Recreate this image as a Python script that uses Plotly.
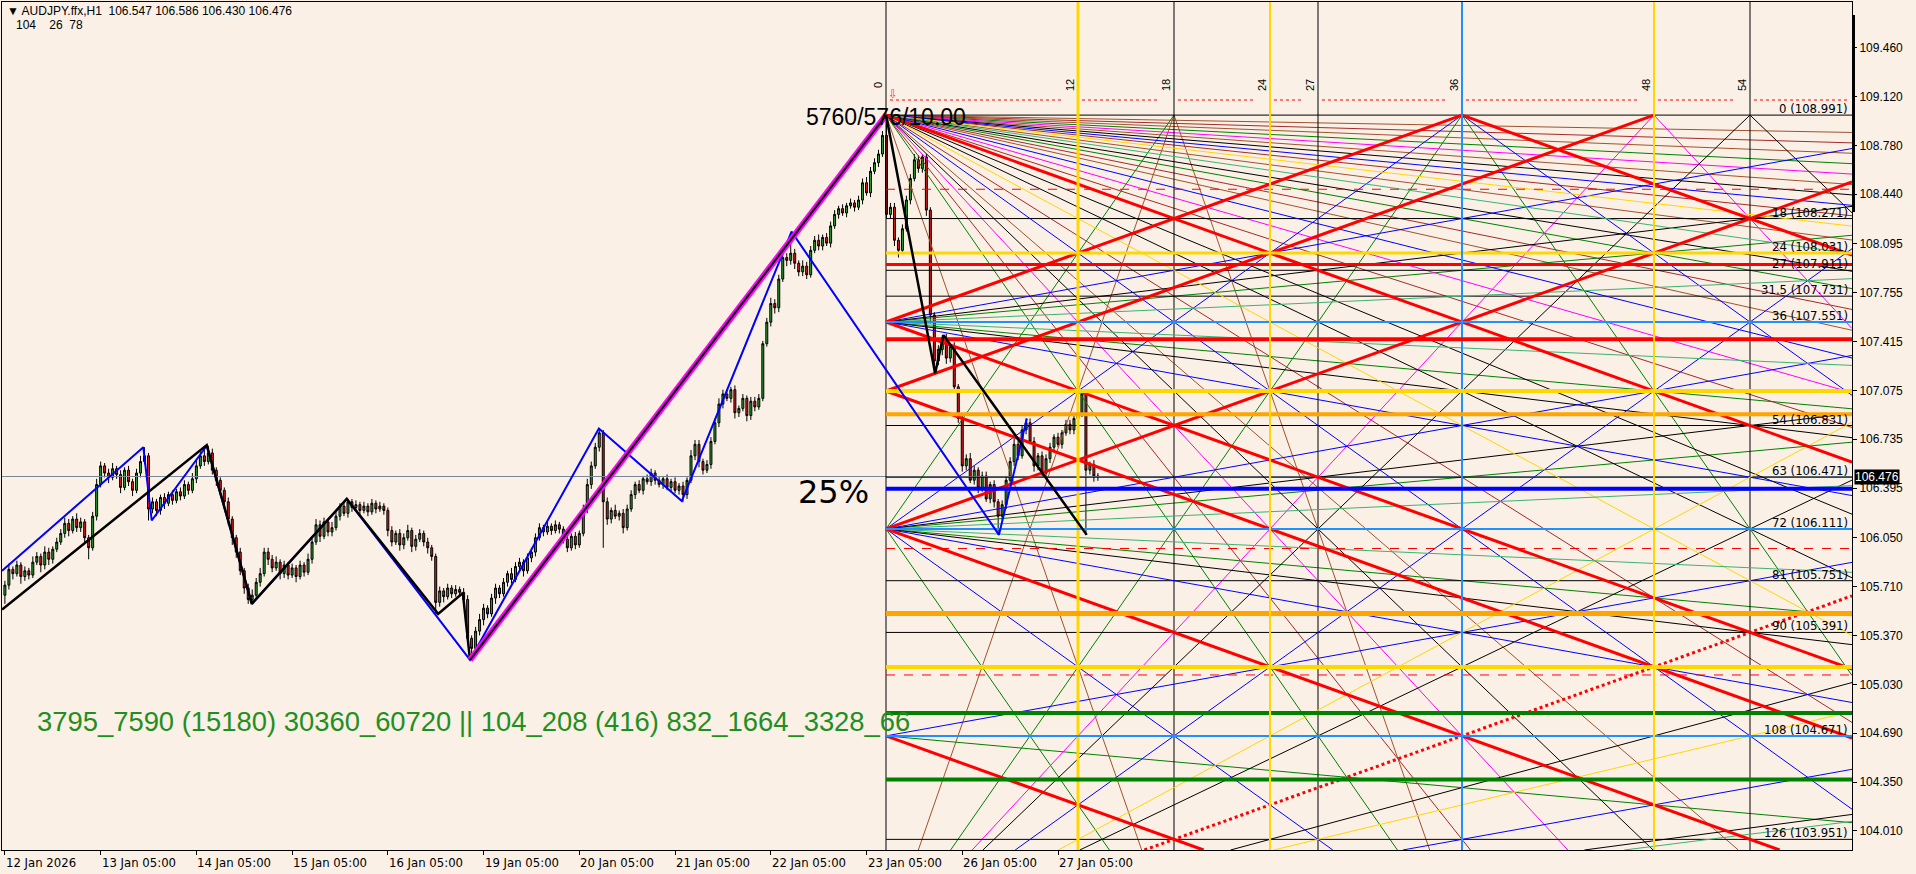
import plotly.graph_objects as go

# ---------------- data ----------------
closes = [
    105.72, 105.83, 105.80, 105.86, 105.78, 105.82, 105.79, 105.88,
    105.92, 105.86, 105.95, 105.90, 105.97, 106.02,
    106.08, 106.15, 106.10, 106.18, 106.12, 106.16, 106.05,
    105.98, 106.20, 106.42,
    106.55, 106.50, 106.47, 106.53, 106.49, 106.40, 106.52, 106.44, 106.38, 106.50, 106.58, 106.62,
    106.25, 106.30, 106.24,
    106.33, 106.29, 106.35, 106.31, 106.37, 106.34,
    106.42, 106.38, 106.46,
    106.55, 106.62, 106.58, 106.64,
    106.52, 106.45, 106.38,
    106.30, 106.18, 106.05,
    105.95, 105.82, 105.70, 105.62, 105.65,
    105.74, 105.80, 105.95, 105.90,
    105.84, 105.88, 105.80, 105.86,
    105.79, 105.84, 105.78, 105.86, 105.81, 105.90, 106.02,
    106.14, 106.06, 106.16, 106.09, 106.12,
    106.20, 106.27, 106.22, 106.30,
    106.26, 106.28, 106.24, 106.27, 106.23, 106.29, 106.25, 106.27, 106.24,
    106.10, 106.02, 106.08, 106.00,
    106.05, 106.10, 105.99, 106.04, 106.08, 106.02, 105.98, 105.92,
    105.60, 105.68, 105.64, 105.70, 105.66, 105.69, 105.67, 105.62,
    105.35, 105.28,
    105.40, 105.48, 105.56, 105.52, 105.63, 105.70, 105.66,
    105.74, 105.80, 105.76, 105.85, 105.88, 105.82, 105.91, 105.95,
    106.05, 106.12, 106.09, 106.13, 106.10, 106.14, 106.11,
    106.04, 105.98, 106.06, 106.00, 106.08,
    106.25, 106.42, 106.55, 106.68, 106.78, 106.30,
    106.18, 106.24, 106.20, 106.22, 106.12, 106.25,
    106.35, 106.42, 106.38, 106.46, 106.44, 106.50,
    106.45, 106.42, 106.46, 106.40, 106.44, 106.38, 106.41, 106.35, 106.45,
    106.62, 106.70, 106.58, 106.52, 106.56, 106.72,
    106.85, 106.98, 107.05, 107.02, 107.08,
    106.92, 106.95, 107.02, 106.90, 107.00,
    106.96, 107.02, 107.40,
    107.55, 107.68, 107.65,
    107.85, 108.00, 107.98, 108.03,
    107.96, 107.90, 107.94, 107.88, 108.05,
    108.12, 108.08, 108.14, 108.10,
    108.22, 108.30, 108.34, 108.31, 108.36, 108.38, 108.35, 108.40,
    108.52, 108.45, 108.60, 108.66, 108.72, 108.85,
    108.30,
    108.35, 108.12, 108.05, 108.20,
    108.40, 108.55, 108.68, 108.62, 108.70,
    108.33,
    107.60,
    107.28, 107.36, 107.44,
    107.30, 107.38, 107.10, 106.88,
    106.55,
    106.60, 106.45, 106.52, 106.40, 106.48, 106.32, 106.42, 106.30,
    106.20, 106.28,
    106.45, 106.58, 106.70, 106.62, 106.80, 106.85,
    106.72, 106.55, 106.62, 106.50, 106.60,
    106.68, 106.75, 106.70, 106.78, 106.84, 106.80, 106.88, 106.92,
    107.05,
    106.52,
    106.56, 106.48, 106.476,
]
upper_wick = [
    3, 4, 2, 3, 2, 3, 2, 4,
    3, 2, 4, 3, 2, 3,
    3, 4, 3, 2, 4, 3, 2,
    2, 3, 4,
    3, 2, 3, 4, 2, 3, 2, 3, 2, 3, 4, 6,
    2, 3, 2,
    2, 3, 2, 3, 2, 3,
    3, 2, 4,
    4, 3, 5, 5,
    3, 2, 2,
    2, 3, 2,
    2, 3, 2, 3, 4,
    3, 4, 3, 3,
    3, 4, 2, 3,
    2, 3, 2, 3, 2, 4, 3,
    4, 3, 3, 2, 4,
    3, 2, 3, 2,
    2, 3, 2, 3, 2, 3, 2, 3, 2,
    2, 3, 2, 3,
    3, 4, 2, 3, 3, 2, 3, 2,
    2, 3, 2, 3, 2, 3, 2, 3,
    3, 2,
    3, 4, 3, 2, 3, 3, 2,
    3, 2, 4, 3, 3, 2, 3, 3,
    3, 3, 2, 3, 2, 3, 2,
    2, 3, 2, 3, 2,
    3, 4, 3, 3, 3, 2,
    3, 2, 4, 2, 3, 3,
    3, 2, 3, 2, 3, 3,
    2, 3, 2, 3, 2, 3, 2, 3, 2,
    4, 3, 3, 2, 3, 3,
    3, 4, 3, 3, 2,
    3, 2, 3, 2, 3,
    3, 3, 2,
    3, 4, 3,
    3, 4, 3, 14,
    3, 2, 4, 3, 3,
    3, 4, 2, 3,
    3, 3, 2, 3, 2, 3, 2, 3,
    3, 4, 3, 3, 3, 3,
    14,
    3, 3, 2, 3,
    3, 3, 4, 3, 2,
    2,
    2,
    2, 3, 2,
    3, 2, 3, 2,
    3,
    3, 4, 3, 2, 3, 3, 2, 3,
    2, 3,
    3, 3, 4, 3, 3, 3,
    3, 3, 2, 3, 3,
    3, 2, 3, 2, 3, 3, 2, 3,
    3,
    3,
    2, 3, 2,
]
lower_wick = [
    6, 3, 4, 2, 5, 3, 3, 2,
    2, 5, 3, 4, 3, 2,
    2, 3, 4, 2, 3, 3, 4,
    8, 2, 3,
    2, 3, 4, 2, 3, 4, 2, 3, 4, 2, 3, 2,
    8, 3, 4,
    3, 4, 2, 3, 2, 3,
    2, 3, 2,
    3, 2, 3, 2,
    3, 4, 3,
    3, 4, 5,
    4, 3, 4, 3, 2,
    2, 3, 2, 4,
    3, 2, 4, 3,
    3, 2, 4, 2, 3, 2, 3,
    2, 4, 2, 3, 3,
    2, 3, 2, 3,
    3, 2, 3, 2, 3, 2, 3, 2, 3,
    4, 3, 2, 4,
    3, 2, 4, 3, 2, 3, 4, 3,
    8, 3, 4, 2, 3, 2, 3, 4,
    4, 8,
    4, 3, 4, 3, 2, 4, 3,
    2, 3, 3, 2, 3, 4, 2, 3,
    3, 2, 3, 2, 3, 2, 3,
    3, 3, 2, 3, 2,
    2, 3, 3, 2, 3, 32,
    4, 3, 2, 3, 4, 2,
    2, 3, 2, 3, 2, 3,
    3, 2, 3, 2, 3, 2, 3, 5, 3,
    2, 3, 4, 3, 2, 3,
    2, 3, 3, 2, 3,
    4, 3, 2, 4, 3,
    3, 2, 2,
    2, 3, 4,
    3, 2, 4, 3,
    4, 3, 3, 3, 2,
    2, 3, 3, 2,
    3, 2, 3, 2, 3, 2, 3, 2,
    3, 2, 3, 2, 3, 2,
    3,
    3, 4, 5, 2,
    2, 3, 2, 3, 3,
    4,
    6,
    9, 3, 4,
    4, 3, 4, 3,
    4,
    3, 2, 3, 4, 3, 2, 3, 4,
    13, 3,
    3, 2, 3, 3, 2, 3,
    2, 4, 3, 3, 2,
    3, 3, 2, 3, 2, 3, 3, 2,
    3,
    45,
    3, 4, 3,
]
FIRST_OPEN = 105.65
PIP = 0.01
LAST_PRICE = 106.476

date_bars = [0, 24, 48, 72, 96, 120, 144, 168, 192, 216, 240, 264]
date_labels = ["12 Jan 2026", "13 Jan 05:00", "14 Jan 05:00", "15 Jan 05:00", "16 Jan 05:00",
               "19 Jan 05:00", "20 Jan 05:00", "21 Jan 05:00", "22 Jan 05:00", "23 Jan 05:00",
               "26 Jan 05:00", "27 Jan 05:00"]
price_ticks = [109.460, 109.120, 108.780, 108.440, 108.095, 107.755, 107.415, 107.075, 106.735,
               106.395, 106.050, 105.710, 105.370, 105.030, 104.690, 104.350, 104.010]

blue_zz_bar = [-0.7, 34.7, 36.8, 50.6, 61.9, 85.7, 116.6, 148.9, 169.7, 197.2, 249.2, 256.2]
blue_zz_price = [105.82, 106.68, 106.17, 106.69, 105.59, 106.32, 105.20, 106.81, 106.305, 108.18, 106.07, 106.88]
black_zz_bar = [-0.7, 50.6, 61.9, 85.7, 108.6, 114.8, 116.6]
black_zz_price = [105.55, 106.695, 105.59, 106.32, 105.52, 105.665, 105.20]
trend_bar = [116.6, 220.9]
trend_price = [105.20, 108.991]
drop_bar = [220.9, 233.2, 235.3, 271.2]
drop_price = [108.991, 107.195, 107.46, 106.07]

# Gann box: origin 108.991, 0.04 per price unit, 4 bars per time unit
GANN_P0 = 108.991
GANN_STEP = 0.04
gann_time_marks = [0, 12, 18, 24, 27, 36, 48, 54]
gann_label_units = [0, 18, 24, 27, 31.5, 36, 54, 63, 72, 81, 90, 108, 126]
level_units = [0, 12.9, 18, 24, 24, 26, 27, 31.5, 36, 39, 48, 52.06, 54, 63, 65, 72,
               75.4, 81, 86.7, 90, 96, 97.4, 104, 108, 115.6, 126]
fan0_slopes = [0.05, 0.08, 0.11, 0.14, 0.17, 0.20, 0.23, 0.26, 0.29, 0.32, 0.36, 0.40, 0.45, 0.50,
               0.56, 0.62, 0.70, 0.80, 0.90, 1.15, 4 / 3, 1.5, 1.75, 2.0, 2.4, 8 / 3, 3.0, 3.5, 4.0, 8.0]
fan144_slopes = [-0.25, -0.35, -0.37, -0.5, -2 / 3, -0.75, -4 / 3, -1.5, -2, -8 / 3, -3, -4, -8]
fanm144_slopes = [8 / 3, 3, 4, 8]
side_pivots = [36, 72]
side_slopes = [0.125, 0.25, 1 / 3, 0.5]
low_pivot = 108
low_pivot_slopes = [-0.5, 0.25]
red_lines = [(0, 1), (36, -1), (-36, 1), (48, -1), (36, 1), (48, 1), (72, -1), (72, 1), (108, 1)]

# ---------------- styles ----------------
C = {"sienna": "#A0522D", "brown": "#A52A2A", "green": "#008000", "mediumseagreen": "#3CB371",
     "magenta": "#FF00FF", "black": "#000000", "blue": "#0000FF", "gold": "#FFD700",
     "red": "#FF0000", "orange": "#FFA500", "dodgerblue": "#1E90FF", "seagreen": "#2E8B57"}
fan0_colors = ['sienna', 'brown', 'sienna', 'green', 'magenta', 'sienna', 'black', 'blue', 'brown', 'gold',
               'sienna', 'mediumseagreen', 'black', 'green', 'brown', 'sienna', 'blue', 'magenta', 'brown',
               'black', 'black', 'gold', 'brown', 'blue', 'sienna', 'black', 'magenta', 'brown', 'green',
               'sienna']
fan144_colors = ['green', 'mediumseagreen', 'black', 'blue', 'gold', 'black', 'black', 'gold', 'blue',
                 'black', 'magenta', 'green', 'sienna']
fanm144_colors = ['black', 'magenta', 'green', 'sienna']
side_colors = ['mediumseagreen', 'green', 'black', 'blue']
low_pivot_colors = ['blue', 'green']
level_styles = [('black', 1, 'solid'), ('red', 1, 'dash'), ('black', 1, 'solid'), ('gold', 3, 'solid'),
                ('black', 1, 'solid'), ('red', 3, 'solid'), ('black', 1, 'solid'), ('black', 1, 'solid'),
                ('dodgerblue', 2, 'solid'), ('red', 4, 'solid'), ('gold', 4, 'solid'),
                ('orange', 4, 'solid'), ('black', 1, 'solid'), ('black', 1, 'solid'), ('blue', 4, 'solid'),
                ('dodgerblue', 2, 'solid'), ('red', 1, 'dash'), ('black', 1, 'solid'),
                ('orange', 5, 'solid'), ('black', 1, 'solid'), ('gold', 4, 'solid'), ('red', 1, 'dash'),
                ('green', 4, 'solid'), ('dodgerblue', 2, 'solid'), ('green', 4, 'solid'),
                ('black', 1, 'solid')]
vline_styles = [('black', 1), ('gold', 3), ('black', 1), ('gold', 2), ('black', 1), ('dodgerblue', 2),
                ('gold', 2), ('black', 1)]

# ---------------- geometry helpers ----------------
PX0, PXPB = 4.9, 3.989          # pixel of bar 0, pixels per bar
X_RANGE = [(2 - PX0) / PXPB, (1852 - PX0) / PXPB]
Y_RANGE = [103.877, 109.778]
PXPP = 143.7                    # pixels per price unit


def px2x(px):
    return (px - PX0) / PXPB


def py2p(py):
    return Y_RANGE[1] - (py - 2) / PXPP


def pxp(px):
    return (px - 2) / 1850


def pyp(py):
    return (850 - py) / 848


T0 = px2x(886)
BPU = 16 / PXPB
TMAX = (X_RANGE[1] - T0) / BPU
UMAX = (GANN_P0 - Y_RANGE[0]) / GANN_STEP


def gx(t):
    return T0 + BPU * t


def gp(u):
    return GANN_P0 - GANN_STEP * u


groups = {}


def add(key, xs, ys):
    g = groups.setdefault(key, ([], []))
    g[0].extend(list(xs) + [None])
    g[1].extend(list(ys) + [None])


def ray(u0, s, color, width=1, dash='solid'):
    lo, hi = 0.0, TMAX
    if s != 0:
        ta, tb = -u0 / s, (UMAX - u0) / s
        lo, hi = max(lo, min(ta, tb)), min(hi, max(ta, tb))
    if hi <= lo:
        return
    add((C[color], width, dash), [gx(lo), gx(hi)], [gp(u0 + s * lo), gp(u0 + s * hi)])


for s, c in zip(fan0_slopes, fan0_colors):
    ray(0, s, c)
for s, c in zip(fan144_slopes, fan144_colors):
    ray(144, s, c)
for s, c in zip(fanm144_slopes, fanm144_colors):
    ray(-144, s, c)
ray(-72, 2, 'blue')
for piv in side_pivots:
    for s, c in zip(side_slopes, side_colors):
        ray(piv, s, c)
        ray(piv, -s, c)
for s, c in zip(low_pivot_slopes, low_pivot_colors):
    ray(low_pivot, s, c)
ray(72, -2, 'blue')
ray(72, 2, 'blue')
ray(72, 4, 'green')
ray(72, -4, 'green')
for u0, s in red_lines:
    ray(u0, s, 'red', 3)
ray(144, -1, 'red', 3, 'dot')

for u, (c, w, d) in zip(level_units, level_styles):
    add((C[c], w, d), [gx(0), gx(TMAX)], [gp(u), gp(u)])
for t, (c, w) in zip(gann_time_marks, vline_styles):
    add((C[c], w, 'solid'), [gx(t), gx(t)], [Y_RANGE[0], Y_RANGE[1]])
    if c == 'gold' and w == 3:
        add((C['black'], 1, 'solid'), [gx(t), gx(t)], [Y_RANGE[0], Y_RANGE[1]])

# red dotted line above the box
dot_p = py2p(100)
marks_px = [886 + 16 * t for t in gann_time_marks]
for a, b in zip(marks_px, marks_px[1:] + [1862]):
    add((C['red'], 1, 'dot'), [px2x(a + 4), px2x(b - 14)], [dot_p, dot_p])

fig = go.Figure()
# last price line
fig.add_trace(go.Scatter(x=[X_RANGE[0], X_RANGE[1]], y=[LAST_PRICE, LAST_PRICE], mode='lines',
                         line=dict(color='#778899', width=1), hoverinfo='skip', showlegend=False))
for (col, w, d), (xs, ys) in groups.items():
    fig.add_trace(go.Scatter(x=xs, y=ys, mode='lines', line=dict(color=col, width=w, dash=d),
                             hoverinfo='skip', showlegend=False))

# zigzags
fig.add_trace(go.Scatter(x=blue_zz_bar, y=blue_zz_price, mode='lines', line=dict(color='#0000FF', width=2),
                         hoverinfo='skip', showlegend=False))
fig.add_trace(go.Scatter(x=black_zz_bar, y=black_zz_price, mode='lines', line=dict(color='black', width=2.5),
                         hoverinfo='skip', showlegend=False))
fig.add_trace(go.Scatter(x=trend_bar, y=trend_price, mode='lines', line=dict(color='#FF00FF', width=6),
                         hoverinfo='skip', showlegend=False))
fig.add_trace(go.Scatter(x=trend_bar, y=trend_price, mode='lines', line=dict(color='black', width=2),
                         hoverinfo='skip', showlegend=False))
fig.add_trace(go.Scatter(x=drop_bar, y=drop_price, mode='lines', line=dict(color='black', width=2.5),
                         hoverinfo='skip', showlegend=False))

# candles
opens = [FIRST_OPEN] + closes[:-1]
highs = [max(o, c) + w * PIP for o, c, w in zip(opens, closes, upper_wick)]
lows = [min(o, c) - w * PIP for o, c, w in zip(opens, closes, lower_wick)]
fig.add_trace(go.Candlestick(
    x=list(range(len(closes))), open=opens, high=highs, low=lows, close=closes,
    increasing=dict(line=dict(color='black', width=1), fillcolor='#2f9e2f'),
    decreasing=dict(line=dict(color='black', width=1), fillcolor='#e01b1b'),
    whiskerwidth=0, showlegend=False, hoverinfo='skip'))

ann = []
NARROW = "Liberation Sans Narrow, DejaVu Sans Condensed, Liberation Sans"
# date labels
for b, lab in zip(date_bars, date_labels):
    ann.append(dict(x=b, xref='x', y=pyp(853), yref='paper', text=lab, showarrow=False, xanchor='left',
                    yanchor='top', xshift=-1, font=dict(family=NARROW, size=13, color='black')))
# gann level labels on the right
for u in gann_label_units:
    num = ('%g' % u)
    ann.append(dict(x=pxp(1850), xref='paper', y=gp(u), yref='y', text=f"{num} ({gp(u):.3f})",
                    showarrow=False, xanchor='right', yanchor='bottom', yshift=-3,
                    font=dict(family=NARROW, size=13, color='black')))
# time labels (rotated)
for t in gann_time_marks:
    ann.append(dict(x=px2x(886 + 16 * t - 8), xref='x', y=py2p(85), yref='y', text=str(t), textangle=-90,
                    showarrow=False, xanchor='center', yanchor='middle',
                    font=dict(family="Liberation Sans", size=11, color='black')))
# texts
ann.append(dict(x=px2x(804), xref='x', y=py2p(117), yref='y', text="5760/576/10.00", showarrow=False,
                xanchor='left', yanchor='middle', font=dict(family="Liberation Sans", size=23, color='black')))
ann.append(dict(x=px2x(893), xref='x', y=py2p(94), yref='y', text="⇩", showarrow=False,
                xanchor='center', yanchor='middle', font=dict(family="DejaVu Sans", size=12, color='#FF3030')))
ann.append(dict(x=px2x(796), xref='x', y=py2p(492), yref='y', text="25%", showarrow=False,
                xanchor='left', yanchor='middle', font=dict(family="DejaVu Sans", size=32, color='black')))
ann.append(dict(x=px2x(35), xref='x', y=py2p(721), yref='y',
                text="3795_7590 (15180) 30360_60720 || 104_208 (416) 832_1664_3328_66",
                showarrow=False, xanchor='left', yanchor='middle',
                font=dict(family="Liberation Sans", size=27.4, color='#1f8f1f')))
ann.append(dict(x=pxp(5), xref='paper', y=pyp(11), yref='paper',
                text="▼ AUDJPY.ffx,H1\u00a0\u00a0106.547 106.586 106.430 106.476", showarrow=False,
                xanchor='left', yanchor='middle', font=dict(family="Liberation Sans", size=12, color='black')))
ann.append(dict(x=pxp(14), xref='paper', y=pyp(25), yref='paper',
                text="104\u00a0\u00a0\u00a0\u00a026\u00a0\u00a078", showarrow=False,
                xanchor='left', yanchor='middle', font=dict(family="Liberation Sans", size=12, color='black')))
# last price tag
ann.append(dict(x=pxp(1854), xref='paper', y=LAST_PRICE, yref='y', text="106.476", showarrow=False,
                xanchor='left', yanchor='middle', bgcolor='black', borderpad=0,
                font=dict(family="Liberation Sans", size=12, color='white')))

fig.update_layout(
    width=1916, height=874, margin=dict(l=2, r=64, t=2, b=24),
    paper_bgcolor='#FAF0E6', plot_bgcolor='#FAF0E6', annotations=ann,
    shapes=[dict(type='line', xref='paper', yref='paper', x0=pxp(1853.5), x1=pxp(1853.5),
                 y0=pyp(15), y1=pyp(212), line=dict(color='black', width=3))],
    xaxis=dict(range=X_RANGE, showgrid=False, zeroline=False, rangeslider=dict(visible=False),
               tickvals=date_bars, ticktext=[""] * len(date_bars), ticks='outside', ticklen=4,
               tickcolor='black', showline=True, linecolor='black', mirror=True),
    yaxis=dict(range=Y_RANGE, side='right', showgrid=False, zeroline=False, tickvals=price_ticks,
               ticktext=[f"{p:.3f}" for p in price_ticks], ticks='outside', ticklen=4, tickcolor='black',
               showline=True, linecolor='black', mirror=True,
               tickfont=dict(family="Liberation Sans", size=12, color='black')),
    showlegend=False,
)
fig.write_html("out.html", config={"displayModeBar": False},
               post_script="document.body.style.margin='0px';document.body.style.overflow='hidden';")
